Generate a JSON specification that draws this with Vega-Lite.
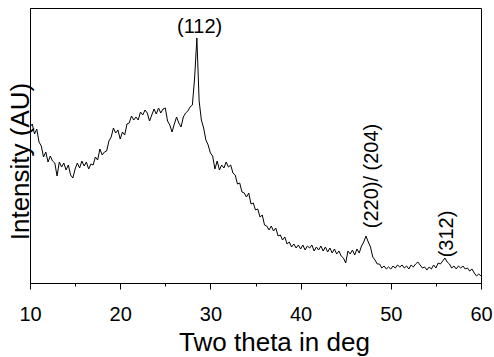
{
  "$schema": "https://vega.github.io/schema/vega-lite/v6.json",
  "width": 451,
  "height": 275,
  "autosize": {"type": "none"},
  "padding": {"left": 30, "top": 8, "right": 13, "bottom": 74},
  "background": "white",
  "config": {"view": {"stroke": "black", "strokeWidth": 1}, "font": "Liberation Sans"},
  "encoding": {
    "x": {
      "field": "two_theta", "type": "quantitative",
      "scale": {"domain": [10, 60], "nice": false, "zero": false},
      "axis": {
        "title": "Two theta in deg",
        "values": [10, 15, 20, 25, 30, 35, 40, 45, 50, 55, 60],
        "format": "d",
        "labelExpr": "datum.value % 10 === 0 ? datum.label : ''",
        "tickSize": {"condition": {"test": "datum.value % 10 === 0", "value": 6}, "value": 3},
        "tickColor": "black", "domainColor": "black", "labelColor": "black",
        "labelFont": "Liberation Sans", "labelFontSize": 20, "labelPadding": 15,
        "labelBaseline": "top", "labelFlush": false, "labelOverlap": false,
        "grid": false,
        "titleFont": "Liberation Sans", "titleFontSize": 26, "titleFontWeight": "normal", "titleColor": "black",
        "titleX": 244, "titleY": 67, "titleBaseline": "alphabetic", "titleAlign": "center"
      }
    },
    "y": {
      "field": "intensity", "type": "quantitative",
      "scale": {"domain": [0, 275], "nice": false, "zero": false},
      "axis": {
        "title": "Intensity (AU)",
        "labels": false, "ticks": false, "grid": false,
        "domainColor": "black",
        "titleFont": "Liberation Sans", "titleFontSize": 26, "titleFontWeight": "normal", "titleColor": "black",
        "titleX": -2, "titleY": 153, "titleBaseline": "alphabetic", "titleAlign": "center", "titleAngle": 270
      }
    }
  },
  "layer": [
    {
      "data": {"values": [
        {"two_theta": 10.00, "intensity": 156}, {"two_theta": 10.25, "intensity": 159}, {"two_theta": 10.50, "intensity": 149}, {"two_theta": 10.75, "intensity": 154},
        {"two_theta": 11.00, "intensity": 141}, {"two_theta": 11.25, "intensity": 137}, {"two_theta": 11.50, "intensity": 126}, {"two_theta": 11.75, "intensity": 131},
        {"two_theta": 12.00, "intensity": 121}, {"two_theta": 12.25, "intensity": 127}, {"two_theta": 12.50, "intensity": 122}, {"two_theta": 12.75, "intensity": 120},
        {"two_theta": 13.00, "intensity": 107}, {"two_theta": 13.25, "intensity": 121}, {"two_theta": 13.50, "intensity": 116}, {"two_theta": 13.75, "intensity": 120},
        {"two_theta": 14.00, "intensity": 113}, {"two_theta": 14.25, "intensity": 118}, {"two_theta": 14.50, "intensity": 108}, {"two_theta": 14.75, "intensity": 105},
        {"two_theta": 15.00, "intensity": 114}, {"two_theta": 15.25, "intensity": 120}, {"two_theta": 15.50, "intensity": 115}, {"two_theta": 15.75, "intensity": 122},
        {"two_theta": 16.00, "intensity": 117}, {"two_theta": 16.25, "intensity": 121}, {"two_theta": 16.50, "intensity": 114}, {"two_theta": 16.75, "intensity": 119},
        {"two_theta": 17.00, "intensity": 118}, {"two_theta": 17.25, "intensity": 126}, {"two_theta": 17.50, "intensity": 123}, {"two_theta": 17.75, "intensity": 134},
        {"two_theta": 18.00, "intensity": 128}, {"two_theta": 18.25, "intensity": 131}, {"two_theta": 18.50, "intensity": 132}, {"two_theta": 18.75, "intensity": 142},
        {"two_theta": 19.00, "intensity": 146}, {"two_theta": 19.25, "intensity": 155}, {"two_theta": 19.50, "intensity": 150}, {"two_theta": 19.75, "intensity": 153},
        {"two_theta": 20.00, "intensity": 144}, {"two_theta": 20.25, "intensity": 151}, {"two_theta": 20.50, "intensity": 148}, {"two_theta": 20.75, "intensity": 159},
        {"two_theta": 21.00, "intensity": 160}, {"two_theta": 21.25, "intensity": 167}, {"two_theta": 21.50, "intensity": 163}, {"two_theta": 21.75, "intensity": 166},
        {"two_theta": 22.00, "intensity": 163}, {"two_theta": 22.25, "intensity": 171}, {"two_theta": 22.50, "intensity": 168}, {"two_theta": 22.75, "intensity": 173},
        {"two_theta": 23.00, "intensity": 170}, {"two_theta": 23.25, "intensity": 162}, {"two_theta": 23.50, "intensity": 168}, {"two_theta": 23.75, "intensity": 174},
        {"two_theta": 24.00, "intensity": 169}, {"two_theta": 24.25, "intensity": 175}, {"two_theta": 24.50, "intensity": 170}, {"two_theta": 24.75, "intensity": 174},
        {"two_theta": 25.00, "intensity": 175}, {"two_theta": 25.25, "intensity": 162}, {"two_theta": 25.50, "intensity": 158}, {"two_theta": 25.75, "intensity": 151},
        {"two_theta": 26.00, "intensity": 159}, {"two_theta": 26.25, "intensity": 166}, {"two_theta": 26.50, "intensity": 160}, {"two_theta": 26.75, "intensity": 156},
        {"two_theta": 27.00, "intensity": 166}, {"two_theta": 27.25, "intensity": 170}, {"two_theta": 27.50, "intensity": 172}, {"two_theta": 27.75, "intensity": 176},
        {"two_theta": 28.00, "intensity": 178}, {"two_theta": 28.25, "intensity": 205}, {"two_theta": 28.50, "intensity": 245}, {"two_theta": 28.75, "intensity": 182},
        {"two_theta": 29.00, "intensity": 163}, {"two_theta": 29.25, "intensity": 155}, {"two_theta": 29.50, "intensity": 143}, {"two_theta": 29.75, "intensity": 138},
        {"two_theta": 30.00, "intensity": 130}, {"two_theta": 30.25, "intensity": 127}, {"two_theta": 30.50, "intensity": 114}, {"two_theta": 30.75, "intensity": 122},
        {"two_theta": 31.00, "intensity": 113}, {"two_theta": 31.25, "intensity": 118}, {"two_theta": 31.50, "intensity": 115}, {"two_theta": 31.75, "intensity": 121},
        {"two_theta": 32.00, "intensity": 116}, {"two_theta": 32.25, "intensity": 118}, {"two_theta": 32.50, "intensity": 110}, {"two_theta": 32.75, "intensity": 108},
        {"two_theta": 33.00, "intensity": 99}, {"two_theta": 33.25, "intensity": 100}, {"two_theta": 33.50, "intensity": 91}, {"two_theta": 33.75, "intensity": 90},
        {"two_theta": 34.00, "intensity": 86}, {"two_theta": 34.25, "intensity": 90}, {"two_theta": 34.50, "intensity": 79}, {"two_theta": 34.75, "intensity": 80},
        {"two_theta": 35.00, "intensity": 73}, {"two_theta": 35.25, "intensity": 74}, {"two_theta": 35.50, "intensity": 66}, {"two_theta": 35.75, "intensity": 68},
        {"two_theta": 36.00, "intensity": 58}, {"two_theta": 36.25, "intensity": 57}, {"two_theta": 36.50, "intensity": 53}, {"two_theta": 36.75, "intensity": 57},
        {"two_theta": 37.00, "intensity": 52}, {"two_theta": 37.25, "intensity": 55}, {"two_theta": 37.50, "intensity": 47}, {"two_theta": 37.75, "intensity": 48},
        {"two_theta": 38.00, "intensity": 43}, {"two_theta": 38.25, "intensity": 46}, {"two_theta": 38.50, "intensity": 39}, {"two_theta": 38.75, "intensity": 41},
        {"two_theta": 39.00, "intensity": 36}, {"two_theta": 39.25, "intensity": 39}, {"two_theta": 39.50, "intensity": 35}, {"two_theta": 39.75, "intensity": 38},
        {"two_theta": 40.00, "intensity": 34}, {"two_theta": 40.25, "intensity": 38}, {"two_theta": 40.50, "intensity": 33}, {"two_theta": 40.75, "intensity": 37},
        {"two_theta": 41.00, "intensity": 35}, {"two_theta": 41.25, "intensity": 38}, {"two_theta": 41.50, "intensity": 32}, {"two_theta": 41.75, "intensity": 36},
        {"two_theta": 42.00, "intensity": 33}, {"two_theta": 42.25, "intensity": 37}, {"two_theta": 42.50, "intensity": 32}, {"two_theta": 42.75, "intensity": 36},
        {"two_theta": 43.00, "intensity": 31}, {"two_theta": 43.25, "intensity": 35}, {"two_theta": 43.50, "intensity": 30}, {"two_theta": 43.75, "intensity": 34},
        {"two_theta": 44.00, "intensity": 29}, {"two_theta": 44.25, "intensity": 32}, {"two_theta": 44.50, "intensity": 27}, {"two_theta": 44.75, "intensity": 25},
        {"two_theta": 45.00, "intensity": 20}, {"two_theta": 45.25, "intensity": 32}, {"two_theta": 45.50, "intensity": 29}, {"two_theta": 45.75, "intensity": 33},
        {"two_theta": 46.00, "intensity": 28}, {"two_theta": 46.25, "intensity": 34}, {"two_theta": 46.50, "intensity": 30}, {"two_theta": 46.75, "intensity": 37},
        {"two_theta": 47.00, "intensity": 41}, {"two_theta": 47.25, "intensity": 47}, {"two_theta": 47.50, "intensity": 41}, {"two_theta": 47.75, "intensity": 36},
        {"two_theta": 48.00, "intensity": 26}, {"two_theta": 48.25, "intensity": 23}, {"two_theta": 48.50, "intensity": 19}, {"two_theta": 48.75, "intensity": 19},
        {"two_theta": 49.00, "intensity": 15}, {"two_theta": 49.25, "intensity": 17}, {"two_theta": 49.50, "intensity": 14}, {"two_theta": 49.75, "intensity": 16},
        {"two_theta": 50.00, "intensity": 14}, {"two_theta": 50.25, "intensity": 17}, {"two_theta": 50.50, "intensity": 15}, {"two_theta": 50.75, "intensity": 18},
        {"two_theta": 51.00, "intensity": 16}, {"two_theta": 51.25, "intensity": 18}, {"two_theta": 51.50, "intensity": 15}, {"two_theta": 51.75, "intensity": 17},
        {"two_theta": 52.00, "intensity": 14}, {"two_theta": 52.25, "intensity": 18}, {"two_theta": 52.50, "intensity": 16}, {"two_theta": 52.75, "intensity": 19},
        {"two_theta": 53.00, "intensity": 21}, {"two_theta": 53.25, "intensity": 18}, {"two_theta": 53.50, "intensity": 15}, {"two_theta": 53.75, "intensity": 16},
        {"two_theta": 54.00, "intensity": 13}, {"two_theta": 54.25, "intensity": 16}, {"two_theta": 54.50, "intensity": 14}, {"two_theta": 54.75, "intensity": 18},
        {"two_theta": 55.00, "intensity": 15}, {"two_theta": 55.25, "intensity": 20}, {"two_theta": 55.50, "intensity": 19}, {"two_theta": 55.75, "intensity": 22},
        {"two_theta": 56.00, "intensity": 25}, {"two_theta": 56.25, "intensity": 21}, {"two_theta": 56.50, "intensity": 19}, {"two_theta": 56.75, "intensity": 15},
        {"two_theta": 57.00, "intensity": 17}, {"two_theta": 57.25, "intensity": 14}, {"two_theta": 57.50, "intensity": 17}, {"two_theta": 57.75, "intensity": 15},
        {"two_theta": 58.00, "intensity": 17}, {"two_theta": 58.25, "intensity": 14}, {"two_theta": 58.50, "intensity": 15}, {"two_theta": 58.75, "intensity": 12},
        {"two_theta": 59.00, "intensity": 14}, {"two_theta": 59.25, "intensity": 10}, {"two_theta": 59.50, "intensity": 7}, {"two_theta": 59.75, "intensity": 9},
        {"two_theta": 60.00, "intensity": 7}
      ]},
      "mark": {"type": "line", "color": "black", "strokeWidth": 1}
    },
    {
      "data": {"values": [{"two_theta": 28.8, "intensity": 256.5, "label": "(112)"}]},
      "mark": {"type": "text", "font": "Liberation Sans", "fontSize": 20, "color": "black", "align": "center", "baseline": "middle"},
      "encoding": {"text": {"field": "label", "type": "nominal"}}
    },
    {
      "data": {"values": [
        {"two_theta": 47.94, "intensity": 107, "label": "(220)/ (204)"},
        {"two_theta": 56.24, "intensity": 49, "label": "(312)"}
      ]},
      "mark": {"type": "text", "font": "Liberation Sans", "fontSize": 20, "color": "black", "align": "center", "baseline": "middle", "angle": 270},
      "encoding": {"text": {"field": "label", "type": "nominal"}}
    }
  ]
}
